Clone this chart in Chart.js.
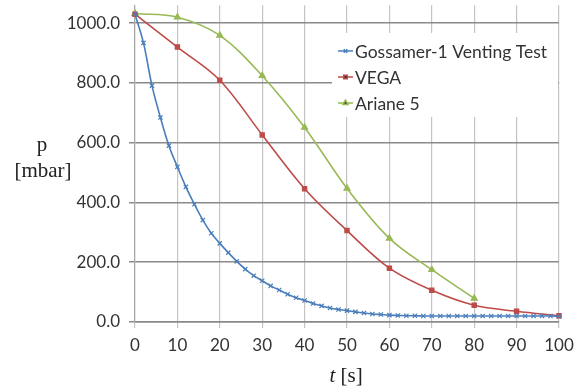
<!DOCTYPE html>
<html>
<head>
<meta charset="utf-8">
<script src="https://cdn.jsdelivr.net/npm/chart.js@4"></script>
<style>
  html, body { margin: 0; padding: 0; background: #fff; }
  #wrap { width: 584px; height: 389px; }
</style>
</head>
<body>
<div id="wrap"><canvas id="grafico"></canvas></div>
<script>
// series values
var gossamerT = [0, 2, 4, 6, 8, 10, 12, 14, 16, 18, 20, 22, 24, 26, 28, 30, 32, 34, 36, 38, 40,
  42, 44, 46, 48, 50, 52, 54, 56, 58, 60, 62, 64, 66, 68, 70, 72, 74, 76, 78, 80,
  82, 84, 86, 88, 90, 92, 94, 96, 98, 100];
var gossamerP = [1030, 934, 791, 684, 590, 519, 452, 394, 341, 297, 263, 232, 203, 177, 155, 138, 121, 107, 93, 81, 72,
  62, 54, 47, 42, 38, 34, 30, 27, 25, 23, 22, 21, 21, 20, 20, 20, 20, 20, 20, 20,
  20, 20, 20, 20, 20, 20, 20, 20, 20, 19];
var vegaT = [0, 10, 20, 30, 40, 50, 60, 70, 80, 90, 100];
var vegaP = [1030, 920, 809, 626, 446, 306, 180, 106, 56, 36, 21];
var arianeT = [0, 10, 20, 30, 40, 50, 60, 70, 80];
var arianeP = [1032, 1020, 959, 824, 651, 447, 280, 175, 79];

var seriesNames = ["Gossamer-1 Venting Test", "VEGA", "Ariane 5"];
var seriesColors = ["#4a7ebb", "#be4b48", "#98b954"];
var seriesMarkers = ["crossRot", "rect", "triangle"];

var yTicks = [0, 200, 400, 600, 800, 1000];
var xTicks = [0, 10, 20, 30, 40, 50, 60, 70, 80, 90, 100];

function toPoints(xs, ys) {
  var pts = [];
  for (var i = 0; i < xs.length; i++) pts.push({ x: xs[i], y: ys[i] });
  return pts;
}

var tickFont = { family: "Lato", size: 17 };

// axis titles and the boxed legend inside the plot
var extras = {
  id: "extras",
  afterDraw: function(chart) {
    var ctx = chart.ctx;
    ctx.save();
    ctx.fillStyle = "#222";
    ctx.textAlign = "center";
    ctx.textBaseline = "middle";
    ctx.font = '21px "Liberation Serif"';
    ctx.fillText("p", 42, 145);
    ctx.fillText("[mbar]", 43, 171);

    // x title: italic t plus [s]
    ctx.textAlign = "left";
    ctx.font = 'italic 21px "Liberation Serif"';
    var tw = ctx.measureText("t ").width;
    ctx.font = '21px "Liberation Serif"';
    var sw = ctx.measureText("[s]").width;
    var xs = 346 - (tw + sw) / 2;
    ctx.font = 'italic 21px "Liberation Serif"';
    ctx.fillText("t", xs, 376);
    ctx.font = '21px "Liberation Serif"';
    ctx.fillText("[s]", xs + tw, 376);

    // legend
    var bx = 332, by = 33, bw = 226, bh = 84;
    ctx.fillStyle = "#fff";
    ctx.fillRect(bx, by, bw, bh);
    ctx.font = '17.5px "Lato"';
    chart.data.datasets.forEach(function(ds, i) {
      var cy = 51 + i * 26;
      ctx.strokeStyle = ds.borderColor;
      ctx.lineWidth = 1.5;
      ctx.beginPath();
      ctx.moveTo(338, cy);
      ctx.lineTo(353, cy);
      ctx.stroke();
      Chart.helpers.drawPoint(ctx, {
        pointStyle: ds.pointStyle,
        radius: ds.pointRadius - 0.5,
        borderWidth: 1.2
      }, 345.5, cy);
      ctx.fillStyle = "#333";
      ctx.textAlign = "left";
      ctx.fillText(ds.label, 355, cy + 1);
    });
    ctx.restore();
  }
};

document.addEventListener("DOMContentLoaded", function() {
  var ctx = document.getElementById("grafico").getContext("2d");
  var allPoints = [toPoints(gossamerT, gossamerP), toPoints(vegaT, vegaP), toPoints(arianeT, arianeP)];
  var sizes = [3, 3, 3.5];

  var datasets = [];
  for (var i = 0; i < seriesNames.length; i++) {
    datasets.push({
      label: seriesNames[i],
      data: allPoints[i],
      borderColor: seriesColors[i],
      backgroundColor: seriesColors[i],
      borderWidth: 1.6,
      pointStyle: seriesMarkers[i],
      pointRadius: sizes[i],
      pointBorderWidth: 1.2,
      pointBorderColor: seriesColors[i],
      pointBackgroundColor: seriesColors[i],
      tension: 0.35,
      showLine: true,
      clip: false
    });
  }

  new Chart(ctx, {
    type: "scatter",
    data: { datasets: datasets },
    options: {
      responsive: true,
      maintainAspectRatio: false,
      animation: false,
      layout: { padding: { left: 0, right: 25, top: 3, bottom: 0 } },
      plugins: {
        legend: { display: false },
        tooltip: { enabled: false }
      },
      scales: {
        x: {
          type: "linear",
          min: 0,
          max: 100,
          afterBuildTicks: function(scale) {
            scale.ticks = xTicks.map(function(v) { return { value: v }; });
          },
          afterFit: function(scale) { scale.height = 67; },
          ticks: {
            color: "#333",
            font: tickFont,
            padding: 7,
            maxRotation: 0,
            autoSkip: false
          },
          grid: {
            color: "#c4c4c4",
            lineWidth: 1.2,
            tickLength: 6
          },
          border: { color: "#8a8a8a", width: 1.5 }
        },
        y: {
          min: 0,
          max: 1060,
          afterBuildTicks: function(scale) {
            scale.ticks = yTicks.map(function(v) { return { value: v }; });
          },
          afterFit: function(scale) {
            scale.width = 135;
            scale.paddingTop = 0;
            scale.paddingBottom = 0;
          },
          ticks: {
            color: "#333",
            font: tickFont,
            padding: 9,
            callback: function(v) { return v.toFixed(1); }
          },
          grid: {
            color: "#8a8a8a",
            lineWidth: 1.5,
            tickLength: 6
          },
          border: { color: "#a8a8a8", width: 1.2 }
        }
      }
    },
    plugins: [extras]
  });
});
</script>
</body>
</html>
